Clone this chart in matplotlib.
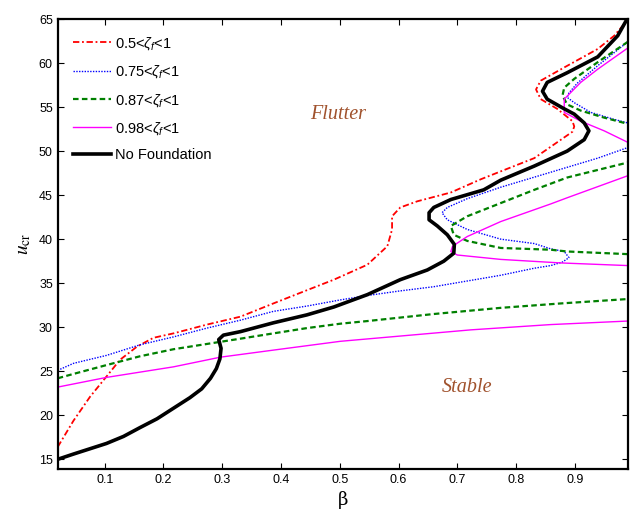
import matplotlib
matplotlib.use("Agg")
import matplotlib.pyplot as plt

plt.rcParams['font.family'] = ['Liberation Sans', 'DejaVu Sans']
plt.rcParams['mathtext.fontset'] = 'custom'
plt.rcParams['mathtext.rm'] = 'Liberation Sans'
plt.rcParams['mathtext.it'] = 'Liberation Sans:italic'

# ---- data (beta, u_cr) ----
black_beta = [0.02, 0.047, 0.075, 0.103, 0.132, 0.16, 0.189, 0.217, 0.245, 0.265, 0.28, 0.29, 0.296,
              0.298, 0.294, 0.302, 0.331, 0.387, 0.444,
              0.49, 0.547, 0.603, 0.649, 0.677, 0.694, 0.695, 0.683, 0.666, 0.652, 0.652, 0.66, 0.689, 0.745,
              0.774, 0.831, 0.887, 0.916, 0.924, 0.916, 0.899, 0.882, 0.853, 0.845, 0.853, 0.887, 0.939, 0.973, 0.989]
black_u = [15.0, 15.6, 16.2, 16.8, 17.6, 18.6, 19.6, 20.8, 22.0, 23.0, 24.2, 25.3, 26.4,
           27.6, 28.6, 29.1, 29.5, 30.5, 31.4,
           32.3, 33.7, 35.4, 36.5, 37.5, 38.4, 39.4, 40.5, 41.5, 42.2, 43.0, 43.6, 44.5, 45.6,
           46.7, 48.3, 50.0, 51.3, 52.3, 53.2, 54.2, 54.8, 55.9, 56.8, 57.8, 58.9, 60.7, 63.1, 65.0]

red_beta = [0.02, 0.047, 0.075, 0.103, 0.126, 0.155, 0.183, 0.217, 0.274, 0.331, 0.387, 0.444, 0.49, 0.547,
            0.581, 0.589, 0.589, 0.603, 0.632, 0.689, 0.74, 0.774, 0.831, 0.87, 0.896, 0.899, 0.896, 0.87,
            0.842, 0.834, 0.842, 0.882, 0.939, 0.967, 0.985]
red_u = [16.4, 19.4, 22.1, 24.4, 26.3, 27.8, 28.8, 29.3, 30.3, 31.2, 32.7, 34.2, 35.4, 37.1,
         39.2, 41.1, 42.6, 43.6, 44.3, 45.3, 46.8, 47.7, 49.2, 51.0, 52.2, 52.8, 53.4, 54.8,
         55.9, 57.0, 58.0, 59.5, 61.6, 63.1, 64.5]

blue_beta = [0.02, 0.047, 0.103, 0.16, 0.217, 0.274, 0.331, 0.387, 0.444, 0.501, 0.547, 0.60, 0.66, 0.774, 0.831,
             0.859, 0.879, 0.89, 0.882, 0.859, 0.831, 0.774, 0.717, 0.683, 0.674, 0.683, 0.717, 0.774, 0.819,
             0.939, 0.99]
blue_u = [25.1, 25.9, 26.8, 28.0, 28.9, 29.9, 30.8, 31.8, 32.4, 33.1, 33.6, 34.1, 34.6, 35.9, 36.7,
          37.0, 37.4, 37.9, 38.6, 38.9, 39.5, 40.0, 41.1, 42.2, 43.0, 43.6, 44.6, 45.9, 46.8,
          49.2, 50.4]
blue_c_beta = [0.99, 0.939, 0.904, 0.89, 0.887, 0.899, 0.927, 0.967, 0.99]
blue_c_u = [62.4, 59.7, 57.7, 56.6, 56.1, 55.5, 54.4, 53.6, 53.2]

green_beta = [0.02, 0.047, 0.103, 0.16, 0.217, 0.274, 0.331, 0.387, 0.444, 0.501, 0.547, 0.66, 0.774, 0.876, 0.99]
green_u = [24.2, 24.7, 25.7, 26.7, 27.5, 28.1, 28.7, 29.3, 29.9, 30.4, 30.7, 31.5, 32.2, 32.7, 33.2]
green_m_beta = [0.99, 0.887, 0.859, 0.774, 0.717, 0.694, 0.689, 0.717, 0.774, 0.831, 0.887, 0.99]
green_m_u = [38.3, 38.6, 38.8, 39.0, 39.8, 40.5, 41.5, 42.6, 44.1, 45.6, 47.0, 48.7]
green_c_beta = [0.99, 0.939, 0.899, 0.882, 0.879, 0.887, 0.91, 0.95, 0.99]
green_c_u = [62.4, 60.1, 58.2, 57.2, 56.3, 55.3, 54.6, 53.8, 53.1]

mag_beta = [0.02, 0.103, 0.217, 0.297, 0.387, 0.501, 0.723, 0.859, 0.99]
mag_u = [23.2, 24.3, 25.5, 26.6, 27.4, 28.4, 29.7, 30.3, 30.7]
mag_m_beta = [0.99, 0.99, 0.876, 0.774, 0.70, 0.689, 0.692, 0.717, 0.774, 0.859, 0.887, 0.99]
mag_m_u = [35.0, 37.0, 37.3, 37.7, 38.2, 38.6, 39.2, 40.3, 42.0, 44.0, 44.7, 47.2]
mag_c_beta = [0.99, 0.939, 0.91, 0.882, 0.882, 0.91, 0.95, 0.99]
mag_c_u = [61.7, 59.3, 57.8, 55.9, 54.4, 53.4, 52.3, 51.0]

labels = [r"0.5<$\zeta_f$<$\mathit{1}$", r"0.75<$\zeta_f$<$\mathit{1}$", r"0.87<$\zeta_f$<$\mathit{1}$",
          r"0.98<$\zeta_f$<$\mathit{1}$", "No Foundation"]

fig = plt.figure(figsize=(6.32, 5.11), dpi=100)
ax = fig.add_axes([0.0913, 0.0822, 0.9019, 0.8806])

red_ls = (0, (3.5, 1.5, 1, 1.5))
blue_ls = (0, (1, 1))
green_ls = (0, (2.5, 1.5))

ax.plot(red_beta, red_u, color='red', lw=1.3, ls=red_ls, label=labels[0])
ax.plot(blue_beta, blue_u, color='blue', lw=1.0, ls=blue_ls, label=labels[1])
ax.plot(blue_c_beta, blue_c_u, color='blue', lw=1.0, ls=blue_ls)
ax.plot(green_beta, green_u, color='green', lw=1.6, ls=green_ls, label=labels[2])
ax.plot(green_m_beta, green_m_u, color='green', lw=1.6, ls=green_ls)
ax.plot(green_c_beta, green_c_u, color='green', lw=1.6, ls=green_ls)
ax.plot(mag_beta, mag_u, color='magenta', lw=1.0, label=labels[3])
ax.plot(mag_m_beta, mag_m_u, color='magenta', lw=1.0)
ax.plot(mag_c_beta, mag_c_u, color='magenta', lw=1.0)
ax.plot(black_beta, black_u, color='black', lw=2.6, label=labels[4], solid_joinstyle='round')

ax.set_xlim(0.02, 0.99)
ax.set_ylim(13.9, 65)
ax.set_xticks([0.1, 0.2, 0.3, 0.4, 0.5, 0.6, 0.7, 0.8, 0.9])
ax.set_yticks(range(15, 66, 5))
ax.tick_params(direction='in', top=True, right=True, labelsize=9, length=4, width=0.8)
for s in ax.spines.values():
    s.set_linewidth(1.6)

ax.set_xlabel("β", family='DejaVu Serif', fontsize=13)
ax.set_ylabel(r"$u_{\mathrm{cr}}$", fontsize=14, math_fontfamily='stix')

brown = '#A0522D'
ax.text(0.498, 54.2, "Flutter", color=brown, style='italic', family='Liberation Serif', fontsize=14.5,
        ha='center', va='center')
ax.text(0.716, 23.2, "Stable", color=brown, style='italic', family='Liberation Serif', fontsize=14.5,
        ha='center', va='center')

leg = ax.legend(loc='upper left', frameon=False, fontsize=10.5, handlelength=2.6, handletextpad=0.3,
                labelspacing=0.78, borderaxespad=0.3, bbox_to_anchor=(0.009, 0.987))

fig.savefig("out.png", dpi=100)
